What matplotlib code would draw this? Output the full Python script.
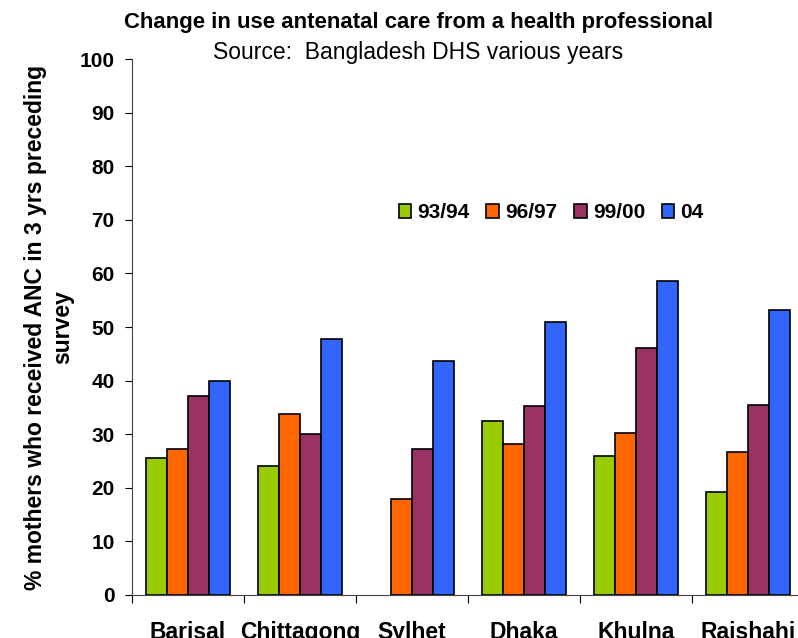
import matplotlib.pyplot as plt
import numpy as np

plt.rcParams['font.family'] = ['Liberation Sans', 'DejaVu Sans']

regions = ['Barisal', 'Chittagong', 'Sylhet', 'Dhaka', 'Khulna', 'Rajshahi']
years = ['93/94', '96/97', '99/00', '04']
anc_9394 = [25.6, 24.0, np.nan, 32.5, 26.0, 19.3]
anc_9697 = [27.3, 33.8, 18.0, 28.2, 30.2, 26.6]
anc_9900 = [37.1, 30.0, 27.3, 35.2, 46.0, 35.5]
anc_04 = [39.9, 47.7, 43.7, 51.0, 58.6, 53.2]
colors = ['#99CC00', '#FF6600', '#993366', '#3366FF']

series = [anc_9394, anc_9697, anc_9900, anc_04]

fig = plt.figure(figsize=(7.98, 6.38), dpi=100)
ax = fig.add_axes([0.1654, 0.0674, 0.842, 0.8401])

x = np.arange(len(regions))
w = 0.186
for i, (vals, c, lab) in enumerate(zip(series, colors, years)):
    ax.bar(x + (i - 1.5) * w, vals, w, color=c, edgecolor='black',
           linewidth=1.2, label=lab)

ax.set_xlim(-0.5, len(regions) - 0.5)
ax.set_ylim(0, 100)
ax.set_yticks(range(0, 101, 10))
ax.set_xticks(np.arange(len(regions) + 1) - 0.5)
ax.set_xticklabels([])
ax.set_xticks(x, minor=True)
ax.set_xticklabels(regions, minor=True, fontsize=16.5, fontweight='bold')
ax.tick_params(axis='x', which='minor', length=0, pad=18.5)
ax.tick_params(axis='x', which='major', length=6, direction='out')
ax.tick_params(axis='y', length=5, labelsize=15, pad=7.5)
for t in ax.get_yticklabels():
    t.set_fontweight('bold')

for s in ['top', 'right']:
    ax.spines[s].set_visible(False)
for s in ['left', 'bottom']:
    ax.spines[s].set_color('#444444')

ax.set_ylabel('% mothers who received ANC in 3 yrs preceding\nsurvey',
              fontsize=16.5, fontweight='bold', labelpad=4, linespacing=1.25)

fig.text(0.524, 0.9655, 'Change in use antenatal care from a health professional',
         ha='center', va='center', fontsize=15.9, fontweight='bold')
fig.text(0.524, 0.917, 'Source:  Bangladesh DHS various years',
         ha='center', va='center', fontsize=16.5)

ax.legend(loc='center', bbox_to_anchor=(0.624, 0.713), ncol=4, frameon=False,
          prop={'size': 15, 'weight': 'bold'}, handlelength=0.6,
          handleheight=0.6, handletextpad=0.3, columnspacing=0.8)

fig.savefig('out.png', dpi=100)
